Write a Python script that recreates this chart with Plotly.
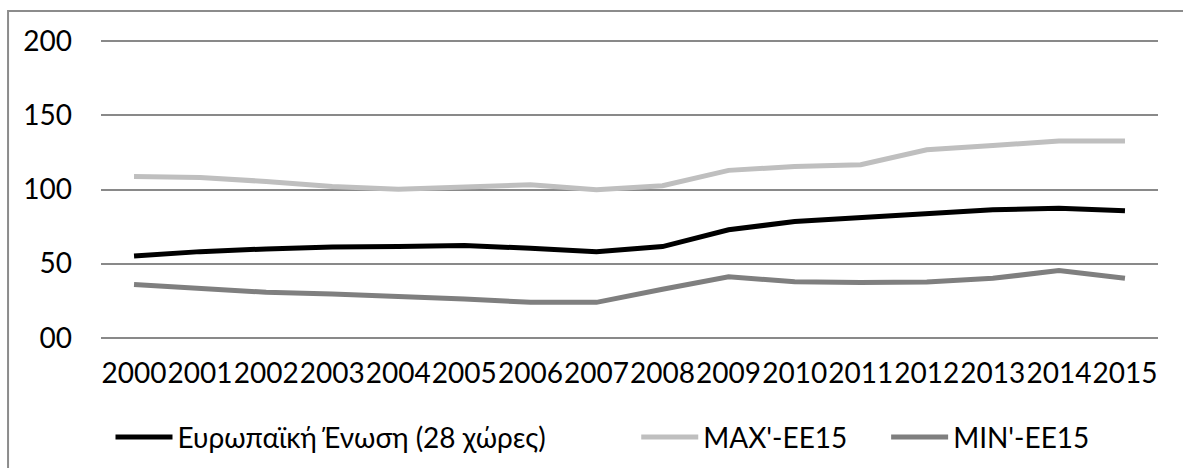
import plotly.graph_objects as go

years = [str(y) for y in range(2000, 2016)]
eu28 = [55.2, 58.1, 59.9, 61.3, 61.5, 62.2, 60.4, 58.1, 61.5, 72.8, 78.4, 81.3, 84.0, 86.3, 87.4, 85.6]
max_ee15 = [108.8, 108.1, 105.4, 102.0, 100.2, 102.0, 103.2, 99.8, 102.5, 112.9, 115.5, 116.7, 126.8, 129.7, 132.7, 132.7]
min_ee15 = [36.0, 33.4, 30.7, 29.5, 28.2, 26.2, 23.9, 23.9, 32.7, 41.2, 37.8, 37.2, 37.6, 40.1, 45.3, 40.1]
names = ["Ευρωπαϊκή Ένωση (28 χώρες)", "MAX'-EE15", "MIN'-EE15"]
colors = ["#000000", "#bfbfbf", "#7f7f7f"]
y_tickvals = [0, 50, 100, 150, 200]
y_ticktext = ["00", "50", "100", "150", "200"]

FONT = "Lato, 'Noto Sans', 'DejaVu Sans', sans-serif"

fig = go.Figure()
series = [eu28, max_ee15, min_ee15]
legends = ["legend", "legend2", "legend3"]
for s, n, c, lg in zip(series, names, colors, legends):
    fig.add_trace(go.Scatter(x=years, y=s, name=n, mode="lines",
                             line=dict(color=c, width=5),
                             legend=lg, hoverinfo="skip"))

# pixel geometry: value 0 at y=337.7, 200 at y=41.7 (1.48 px per unit)
PAD_U = 1.5
PPU = 1.48
TOP = 41.7 - PAD_U * PPU
BOT = 337.7 + PAD_U * PPU
LEFT = 100.5
RIGHT = 1158.0
H = BOT - TOP
W = RIGHT - LEFT
def py(pix):
    return (BOT - pix) / H
def px(pix):
    return (pix - LEFT) / W

leg_common = dict(orientation="h", yanchor="middle", xanchor="left",
                  font=dict(family=FONT, size=28, color="#000000"),
                  bgcolor="rgba(0,0,0,0)", itemwidth=57)
fig.update_layout(
    width=1183, height=468,
    margin=dict(l=LEFT, r=1183 - RIGHT, t=TOP, b=468 - BOT, pad=0, autoexpand=False),
    paper_bgcolor="white", plot_bgcolor="white",
    font=dict(family=FONT, size=28, color="#000000"),
    xaxis=dict(type="category", range=[-0.5, 15.5], showgrid=False, zeroline=False,
               showline=False, ticks="", tickangle=0, tickfont=dict(size=28),
               ticklabelstandoff=14),
    yaxis=dict(range=[-PAD_U, 200 + PAD_U], tickvals=y_tickvals, ticktext=y_ticktext,
               showgrid=True, gridcolor="#898989", gridwidth=1.5, zeroline=False,
               showline=False, ticks="", tickfont=dict(size=28), ticklabelstandoff=28),
    legend=dict(x=px(110), y=py(437), **leg_common),
    legend2=dict(x=px(636), y=py(437), **leg_common),
    legend3=dict(x=px(886), y=py(437), **leg_common),
    showlegend=True,
    shapes=[dict(type="rect", xref="paper", yref="paper",
                 x0=px(7.5), x1=px(1200), y0=py(480), y1=py(11.5),
                 line=dict(color="#8c8c8c", width=2), fillcolor="rgba(0,0,0,0)",
                 layer="below")],
)

fig.write_html("out.html", config={"displayModeBar": False},
               post_script="document.body.style.margin='0';document.body.style.padding='0';")
